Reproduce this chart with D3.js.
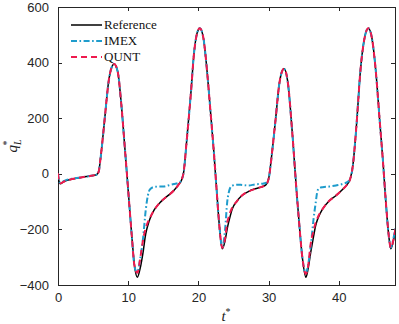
<!DOCTYPE html>
<meta charset="utf-8">
<style>
body { margin: 0; background: #fff; }
.tick text { font: 13px "Liberation Sans", Arial, sans-serif; fill: #262626; }
.axis path, .axis line { stroke: #262626; stroke-width: 1; shape-rendering: crispEdges; }
.legend text { font: 13px "Liberation Serif", serif; fill: #111; }
.lbl { font-family: "Liberation Serif", serif; font-style: italic; fill: #222; }
</style>
<body>
<script src="https://cdn.jsdelivr.net/npm/d3@7"></script>
<script>
// time grid shared by the three series
var tGrid = [0, 0.15, 0.35, 0.7, 1.2, 2, 3, 4, 5, 5.5, 5.8, 6.0, 6.3, 6.7, 7.2, 7.6, 8.0, 8.5, 9.0, 9.5, 10.0, 10.5, 10.9, 11.3, 11.7, 12.1, 12.5, 12.8, 13.1, 13.7, 14.3, 15.0, 15.8, 16.5, 17.2, 17.6, 17.9, 18.3, 18.9, 19.4, 19.8, 20.2, 20.7, 21.2, 21.7, 22.2, 22.6, 22.9, 23.4, 23.8, 24.1, 24.3, 24.5, 24.8, 25.5, 26.2, 27.1, 28.1, 29.0, 29.6, 30.0, 30.5, 31.0, 31.5, 31.8, 32.2, 32.7, 33.4, 34.0, 34.3, 34.8, 35.3, 35.6, 36.0, 36.4, 36.7, 36.95, 37.2, 37.7, 38.6, 39.6, 40.6, 41.2, 41.6, 42.0, 42.5, 43.1, 43.6, 44.2, 44.7, 45.3, 45.8, 46.3, 46.7, 47.1, 47.4, 47.8, 48.1];

var qRef = [2, -28, -36, -30, -24, -19, -14, -10, -6, -3, 8, 43, 110, 210, 330, 380, 395, 368, 255, 100, -60, -220, -330, -372, -340, -285, -215, -185, -162, -130, -110, -92, -76, -60, -38, -22, 6, 110, 282, 440, 505, 524, 490, 378, 230, 78, -60, -162, -270, -240, -198, -175, -155, -128, -98, -78, -64, -54, -47, -40, -18, 80, 198, 320, 360, 378, 335, 138, -70, -162, -300, -372, -345, -282, -225, -186, -165, -150, -126, -98, -78, -55, -38, -20, 30, 170, 378, 480, 524, 490, 360, 198, 40, -102, -220, -270, -238, -195];

var qImex = [2, -25, -32, -28, -22, -18, -14, -10, -6, -3, 8, 43, 110, 210, 330, 380, 395, 368, 255, 100, -60, -220, -335, -355, -306, -235, -130, -78, -56, -47, -46, -46, -41, -37, -32, -22, 6, 110, 282, 440, 505, 524, 490, 378, 230, 78, -60, -162, -265, -200, -102, -70, -52, -43, -39, -40, -42, -38, -36, -33, -18, 80, 198, 320, 360, 378, 335, 138, -70, -162, -300, -358, -330, -260, -162, -105, -62, -51, -48, -46, -42, -36, -30, -20, 30, 170, 378, 480, 524, 490, 360, 198, 40, -102, -220, -265, -230, -190];

var qQunt = [2, -27, -34, -30, -24, -19, -14, -10, -6, -3, 8, 43, 110, 210, 330, 380, 395, 368, 255, 100, -60, -220, -332, -356, -306, -240, -195, -174, -158, -130, -110, -92, -76, -60, -38, -22, 6, 110, 282, 440, 505, 524, 490, 378, 230, 78, -60, -162, -266, -232, -175, -157, -140, -122, -98, -78, -64, -54, -47, -40, -18, 80, 198, 320, 360, 378, 335, 138, -70, -162, -300, -360, -335, -250, -205, -175, -160, -146, -126, -98, -78, -55, -38, -20, 30, 170, 378, 480, 524, 490, 360, 198, 40, -102, -220, -266, -234, -193];

var xTicks = [0, 10, 20, 30, 40];
var yTicks = [-400, -200, 0, 200, 400, 600];
var seriesNames = ["Reference", "IMEX", "QUNT"];
var seriesColors = ["#000000", "#1f9ccc", "#ee1a4e"];
var seriesDash = [null, "6,2.5,1.6,2.5", "6,4"];
var seriesWidth = [1.5, 2, 2];

var margin = {top: 7, right: 4, bottom: 39, left: 58},
    width = 399 - margin.left - margin.right,
    height = 324 - margin.top - margin.bottom;

var svg = d3.select("body").append("svg")
    .attr("width", 399)
    .attr("height", 324);
var g = svg.append("g")
    .attr("transform", "translate(" + margin.left + "," + margin.top + ")");

var x = d3.scaleLinear().domain([0, 48]).range([0, width]);
var y = d3.scaleLinear().domain([-400, 600]).range([height, 0]);

// axes, ticks pointing inward, mirrored on top/right
g.append("g").attr("class", "axis")
    .attr("transform", "translate(0," + height + ")")
    .call(d3.axisBottom(x).tickValues(xTicks).tickSizeInner(-4).tickSizeOuter(0).tickPadding(8));
g.append("g").attr("class", "axis")
    .call(d3.axisLeft(y).tickValues(yTicks).tickSizeInner(-4).tickSizeOuter(0).tickPadding(9));
g.append("g").attr("class", "axis")
    .call(d3.axisTop(x).tickValues(xTicks).tickSizeInner(-4).tickSizeOuter(0).tickFormat(""));
g.append("g").attr("class", "axis")
    .attr("transform", "translate(" + width + ",0)")
    .call(d3.axisRight(y).tickValues(yTicks).tickSizeInner(-4).tickSizeOuter(0).tickFormat(""));

var line = d3.line()
    .x(function(d) { return x(d[0]); })
    .y(function(d) { return y(d[1]); })
    .curve(d3.curveMonotoneX);

var allQ = [qRef, qImex, qQunt];
g.append("clipPath").attr("id", "clip")
  .append("rect").attr("width", width).attr("height", height);

allQ.forEach(function(q, i) {
  g.append("path")
      .datum(tGrid.map(function(t, j) { return [t, q[j]]; }))
      .attr("clip-path", "url(#clip)")
      .attr("fill", "none")
      .attr("stroke", seriesColors[i])
      .attr("stroke-width", seriesWidth[i])
      .attr("stroke-dasharray", seriesDash[i])
      .attr("d", line);
});

// legend
var legend = g.append("g").attr("class", "legend");
seriesNames.forEach(function(name, i) {
  var ly = 18 + i * 16;
  legend.append("line")
      .attr("x1", 13).attr("x2", 44)
      .attr("y1", ly).attr("y2", ly)
      .attr("stroke", seriesColors[i])
      .attr("stroke-width", seriesWidth[i])
      .attr("stroke-dasharray", seriesDash[i]);
  legend.append("text")
      .attr("x", 46).attr("y", ly + 4)
      .text(name);
});

// axis labels
var xl = svg.append("text").attr("class", "lbl")
    .attr("x", 226).attr("y", 321)
    .attr("text-anchor", "middle")
    .style("font-size", "15px");
xl.append("tspan").text("t");
xl.append("tspan").attr("dy", -6).style("font-size", "10px").style("font-style", "normal").text("*");

var yl = svg.append("text").attr("class", "lbl")
    .attr("transform", "translate(17,146) rotate(-90)")
    .attr("text-anchor", "middle")
    .style("font-size", "15px");
yl.append("tspan").text("q");
yl.append("tspan").attr("dy", 4).style("font-size", "10px").text("L");
yl.append("tspan").attr("dx", -6).attr("dy", -11).style("font-size", "10px").style("font-style", "normal").text("*");
</script>
</body>
